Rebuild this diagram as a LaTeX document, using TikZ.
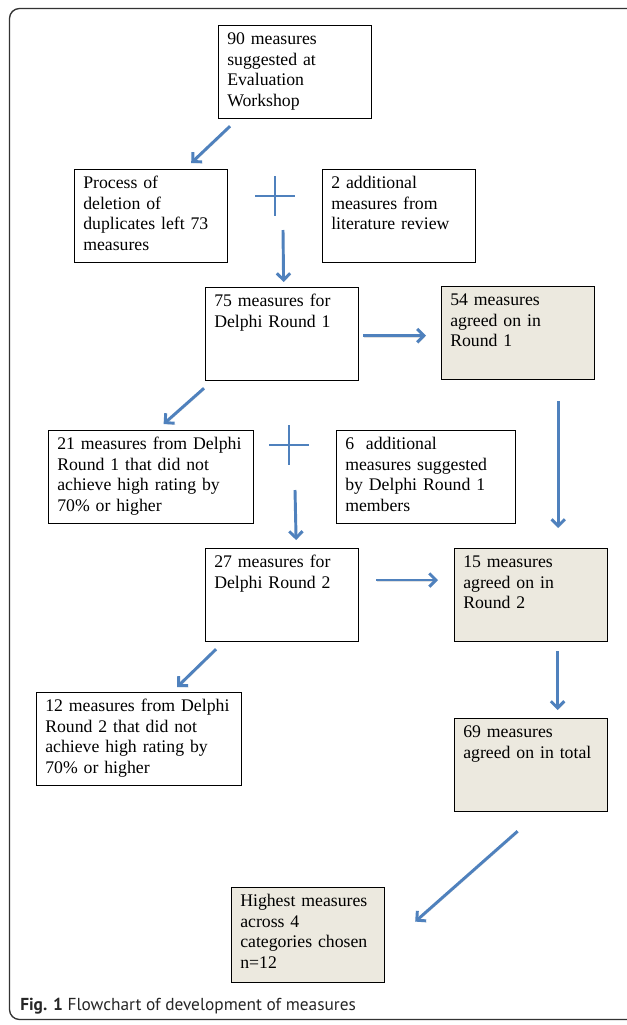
\documentclass[tikz,border=0pt]{standalone}
\usepackage{fontspec}
\setmainfont{Liberation Serif}
\newfontfamily\capfont{PT Sans}
\usetikzlibrary{arrows.meta, calc}
\definecolor{arrowblue}{RGB}{79,129,189}
\definecolor{agreefill}{RGB}{236,233,223}
\tikzstyle{box} = [rectangle, draw=black, line width=0.9pt, anchor=north west, align=left, inner xsep=6.5pt, inner ysep=3.5pt, text width=101.75pt, text height=10.75pt, text depth=52pt, font=\fontsize{13.3}{15.4}\selectfont]
\tikzstyle{wide} = [text width=140.75pt]
\tikzstyle{agreed} = [box, fill=agreefill]
\tikzstyle{arrow} = [draw=arrowblue, line width=2.2pt, -{Straight Barb[length=5pt,width=10pt]}, preaction={draw=black!35, opacity=0.35, transform canvas={xshift=0.6pt,yshift=-1pt}}]
\tikzstyle{plus} = [draw=arrowblue, line width=1pt]
\tikzstyle{frame} = [draw=black!80, line width=1pt, rounded corners=7.5pt]

\begin{document}
\begin{tikzpicture}[x=0.75pt, y=-0.75pt]
\useasboundingbox (0,0) rectangle (627,1025);
\begin{scope}
\clip (0,0) rectangle (627,1025);
\draw [frame] (9.5,8.5) rectangle (660,1019.5);
\end{scope}

% Define the blocks
\node (n90) [box] at (218,25) {90 measures\\suggested at\\Evaluation\\Workshop};
\node (dedup) [box] at (74,169) {Process of\\deletion of\\duplicates left 73\\measures};
\node (litrev) [box] at (322,169) {2 additional\\measures from\\literature review};
\node (r1) [box] at (205,287) {75 measures for\\Delphi Round 1};
\node (agree1) [agreed] at (441,286) {54 measures\\agreed on in\\Round 1};
\node (rej1) [box, wide] at (48,430) {21 measures from Delphi\\Round 1 that did not\\achieve high rating by\\70\% or higher};
\node (add6) [box, text width=121.25pt] at (336,430) {6\ \ additional\\measures suggested\\by Delphi Round 1\\members};
\node (r2) [box] at (205,548) {27 measures for\\Delphi Round 2};
\node (agree2) [agreed] at (454,548) {15 measures\\agreed on in\\Round 2};
\node (rej2) [box, wide] at (36,692) {12 measures from Delphi\\Round 2 that did not\\achieve high rating by\\70\% or higher};
\node (total) [agreed] at (454,718) {69 measures\\agreed on in total};
\node (final) [agreed, text depth=53.5pt] at (231,887) {Highest measures\\across 4\\categories chosen\\n=12};

% plus signs
\coordinate (plus1) at (275,196);
\coordinate (plus2) at (289,445);
\draw [plus] ($(plus1)+(-20,0)$) -- ($(plus1)+(20,0)$);
\draw [plus] ($(plus1)+(0,-20)$) -- ($(plus1)+(0,20)$);
\draw [plus] ($(plus2)+(-20,0)$) -- ($(plus2)+(20,0)$);
\draw [plus] ($(plus2)+(0,-20)$) -- ($(plus2)+(0,20)$);

% Draw the arrows
\draw [arrow] ($(n90.south west)+(12,7)$) -- ($(dedup.north east)+(-37,-6)$);
\draw [arrow] ($(plus1)+(8,34)$) -- ($(r1.north)+(1.5,-5)$);
\draw [arrow] ($(r1.east)+(4,1.5)$) -- ($(agree1.west)+(-15,2.5)$);
\draw [arrow] ($(r1.south west)+(-1,7)$) -- ($(rej1.north)+(12.5,-6)$);
\draw [arrow] ($(agree1.south east)+(-37,21)$) -- ($(agree2.north east)+(-50,-20)$);
\draw [arrow] ($(plus2)+(6,45)$) -- ($(r2.north)+(14,-8)$);
\draw [arrow] ($(r2.north east)+(17,32)$) -- ($(agree2.north west)+(-16,32)$);
\draw [arrow] ($(r2.south west)+(11,7)$) -- ($(rej2.north)+(38,-5)$);
\draw [arrow] ($(agree2.south)+(26.5,9)$) -- ($(total.north)+(26.5,-8)$);
\draw [arrow] ($(total.south)+(-13.5,19)$) -- ($(final.east)+(30,-13.5)$);

% caption
\node (caption) [anchor=west, inner sep=0pt, font=\capfont\fontsize{13}{15}\selectfont, text=black!85] at (20,1006) {\textbf{Fig. 1} Flowchart of development of measures};
\end{tikzpicture}
\end{document}
